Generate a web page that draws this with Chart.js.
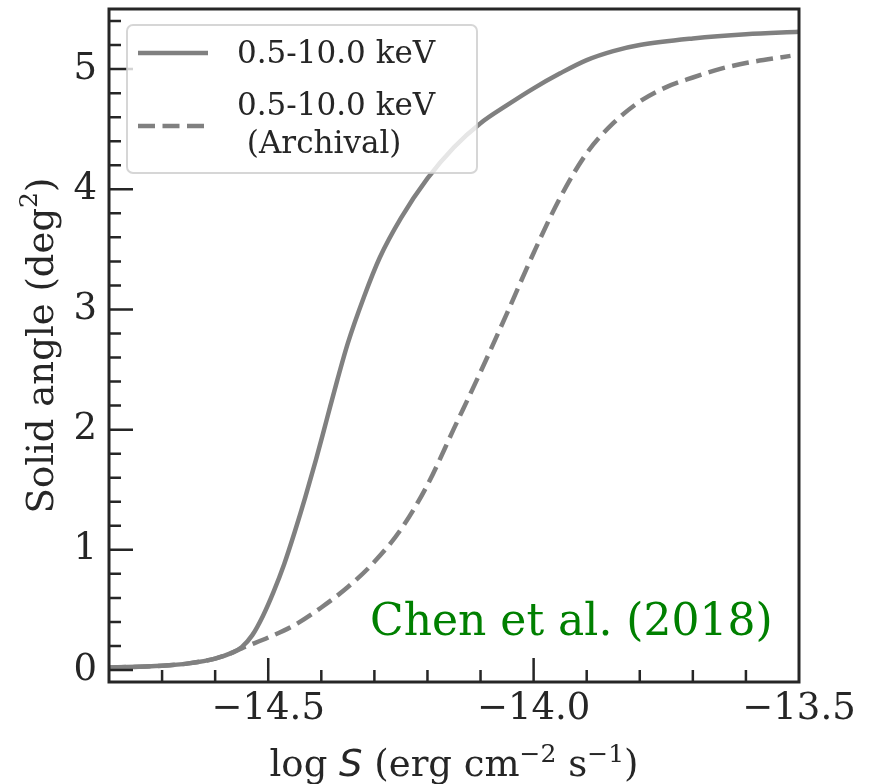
<!DOCTYPE html>
<html>
<head>
<meta charset="utf-8">
<script src="https://cdn.jsdelivr.net/npm/chart.js@4.4.1/dist/chart.umd.min.js"></script>
<style>
  html, body { margin: 0; padding: 0; background: #fff; }
  canvas { display: block; }
</style>
</head>
<body>
<canvas id="solidAngle" width="877" height="784"></canvas>
<script>
const seriesLabels = ['0.5-10.0 keV', '0.5-10.0 keV\n (Archival)'];

// sky coverage of the new 0.5-10 keV survey
const logSMain = [-14.80, -14.70, -14.65, -14.60, -14.57, -14.55, -14.53, -14.51, -14.49, -14.47,
                  -14.45, -14.43, -14.41, -14.39, -14.37, -14.35, -14.32, -14.29, -14.25, -14.20,
                  -14.15, -14.10, -14.05, -14.00, -13.95, -13.90, -13.85, -13.80, -13.70, -13.60, -13.50];
const areaMain = [0.02, 0.035, 0.055, 0.095, 0.14, 0.19, 0.29, 0.45, 0.65, 0.88,
                  1.15, 1.44, 1.75, 2.08, 2.41, 2.72, 3.10, 3.43, 3.76, 4.09,
                  4.35, 4.55, 4.70, 4.84, 4.965, 5.075, 5.15, 5.20, 5.255, 5.29, 5.31];

// archival coverage
const logSArch = [-14.80, -14.70, -14.65, -14.60, -14.57, -14.55, -14.50, -14.45, -14.40, -14.35,
                  -14.30, -14.25, -14.20, -14.15, -14.10, -14.05, -14.00, -13.95, -13.90, -13.85,
                  -13.80, -13.75, -13.70, -13.65, -13.60, -13.516];
const areaArch = [0.02, 0.035, 0.055, 0.095, 0.14, 0.18, 0.27, 0.375, 0.52, 0.69,
                  0.90, 1.17, 1.54, 2.01, 2.48, 2.97, 3.47, 3.93, 4.30, 4.55,
                  4.73, 4.85, 4.93, 5.00, 5.05, 5.11];

const xTicks = [-14.5, -14.0, -13.5];
const xTickLabels = ['\u221214.5', '\u221214.0', '\u221213.5'];
const yTicks = [0, 1, 2, 3, 4, 5];
const yTickLabels = ['0', '1', '2', '3', '4', '5'];

const X_MIN = -14.8, X_MAX = -13.5, Y_MIN = -0.1, Y_MAX = 5.5;
const X_MINOR = 0.1, Y_MINOR = 0.2;

const INK = '#262626';
const GREY = '#808080';
const SERIF = '"DejaVu Serif", serif';

function pts(xs, ys) {
    return xs.map((x, i) => ({ x: x, y: ys[i] }));
}

// draw a run of text pieces (for super/subscripts) side by side
function drawRich(ctx, parts, x, y, align) {
    let total = 0;
    parts.forEach(p => {
        ctx.font = p.font;
        p.w = ctx.measureText(p.text).width;
        total += p.w;
    });
    let cx = align === 'center' ? x - total / 2 : x;
    ctx.textAlign = 'left';
    ctx.textBaseline = 'alphabetic';
    parts.forEach(p => {
        ctx.font = p.font;
        ctx.fillText(p.text, cx, y - (p.rise || 0));
        cx += p.w;
    });
}

const decorations = {
    id: 'decorations',
    afterDraw(chart) {
        const ctx = chart.ctx;
        const a = chart.chartArea;
        const xs = chart.scales.x, ys = chart.scales.y;
        ctx.save();

        // inward ticks on bottom and left
        ctx.strokeStyle = INK;
        ctx.lineWidth = 2.5;
        ctx.beginPath();
        const nx = Math.round((X_MAX - X_MIN) / X_MINOR);
        for (let i = 1; i < nx; i++) {
            const v = Math.round((X_MIN + i * X_MINOR) * 10) / 10;
            const major = xTicks.some(t => Math.abs(t - v) < 1e-6);
            const px = xs.getPixelForValue(v);
            ctx.moveTo(px, a.bottom);
            ctx.lineTo(px, a.bottom - (major ? 24 : 12));
        }
        for (let v = 0; v < Y_MAX; v = Math.round((v + Y_MINOR) * 10) / 10) {
            const major = yTicks.some(t => Math.abs(t - v) < 1e-6);
            const py = ys.getPixelForValue(v);
            ctx.moveTo(a.left, py);
            ctx.lineTo(a.left + (major ? 24 : 12), py);
        }
        ctx.stroke();

        // frame
        ctx.lineWidth = 3;
        ctx.strokeRect(a.left, a.top, a.right - a.left, a.bottom - a.top);

        // axis titles
        ctx.fillStyle = INK;
        const big = '37px ' + SERIF, sup = '25px ' + SERIF;
        drawRich(ctx, [
            { text: 'log ', font: big },
            { text: 'S', font: 'oblique 37px "DejaVu Sans", sans-serif' },
            { text: ' (erg cm', font: big },
            { text: '\u22122', font: sup, rise: 14 },
            { text: ' s', font: big },
            { text: '\u22121', font: sup, rise: 14 },
            { text: ')', font: big }
        ], (a.left + a.right) / 2, 776, 'center');

        ctx.save();
        ctx.translate(53, (a.top + a.bottom) / 2);
        ctx.rotate(-Math.PI / 2);
        drawRich(ctx, [
            { text: 'Solid angle (deg', font: big },
            { text: '2', font: sup, rise: 16 },
            { text: ')', font: big }
        ], 0, 0, 'center');
        ctx.restore();

        // reference note
        ctx.fillStyle = '#008000';
        ctx.font = '44px ' + SERIF;
        ctx.textAlign = 'left';
        ctx.textBaseline = 'alphabetic';
        ctx.fillText('Chen et al. (2018)', 370, 635);

        // legend box
        const lx = a.left + 18, ly = a.top + 16, lw = 350, lh = 148;
        ctx.beginPath();
        ctx.roundRect(lx, ly, lw, lh, 6);
        ctx.fillStyle = 'rgba(255,255,255,0.8)';
        ctx.fill();
        ctx.strokeStyle = 'rgba(204,204,204,0.8)';
        ctx.lineWidth = 2;
        ctx.stroke();

        const rows = [ly + 28, ly + 101];
        const textRows = [[ly + 38], [ly + 90, ly + 128]];
        chart.data.datasets.forEach((ds, i) => {
            ctx.strokeStyle = ds.borderColor;
            ctx.lineWidth = ds.borderWidth;
            ctx.setLineDash(ds.borderDash || []);
            ctx.lineCap = 'butt';
            ctx.beginPath();
            ctx.moveTo(lx + 11, rows[i]);
            ctx.lineTo(lx + 81, rows[i]);
            ctx.stroke();
            ctx.setLineDash([]);
            ctx.fillStyle = INK;
            ctx.font = '31px ' + SERIF;
            ds.label.split('\n').forEach((line, j) => {
                ctx.fillText(line, lx + 110, textRows[i][j]);
            });
        });

        ctx.restore();
    }
};

new Chart(document.getElementById('solidAngle'), {
    type: 'line',
    data: {
        datasets: [{
            label: seriesLabels[0],
            data: pts(logSMain, areaMain),
            borderColor: GREY,
            borderWidth: 4.5,
            pointRadius: 0,
            cubicInterpolationMode: 'monotone',
            fill: false
        }, {
            label: seriesLabels[1],
            data: pts(logSArch, areaArch),
            borderColor: GREY,
            borderWidth: 4.5,
            borderDash: [17, 7.5],
            pointRadius: 0,
            cubicInterpolationMode: 'monotone',
            fill: false
        }]
    },
    options: {
        responsive: false,
        animation: false,
        events: [],
        layout: { padding: { left: 0, top: 9, right: 78, bottom: 0 } },
        plugins: {
            legend: { display: false },
            tooltip: { enabled: false }
        },
        scales: {
            x: {
                type: 'linear',
                min: X_MIN,
                max: X_MAX,
                grid: { display: false, drawTicks: false },
                border: { display: false },
                afterBuildTicks: s => { s.ticks = xTicks.map(v => ({ value: v })); },
                afterFit: s => { s.height = 102; s.paddingLeft = 0; s.paddingRight = 0; },
                ticks: {
                    color: INK,
                    padding: 5,
                    maxRotation: 0,
                    autoSkip: false,
                    font: { family: SERIF, size: 37 },
                    callback: (v, i) => xTickLabels[i]
                }
            },
            y: {
                type: 'linear',
                min: Y_MIN,
                max: Y_MAX,
                grid: { display: false, drawTicks: false },
                border: { display: false },
                afterBuildTicks: s => { s.ticks = yTicks.map(v => ({ value: v })); },
                afterFit: s => { s.width = 109; s.paddingTop = 0; s.paddingBottom = 0; },
                ticks: {
                    color: INK,
                    padding: 12,
                    autoSkip: false,
                    font: { family: SERIF, size: 37 },
                    callback: (v, i) => yTickLabels[i]
                }
            }
        }
    },
    plugins: [decorations]
});
</script>
</body>
</html>
